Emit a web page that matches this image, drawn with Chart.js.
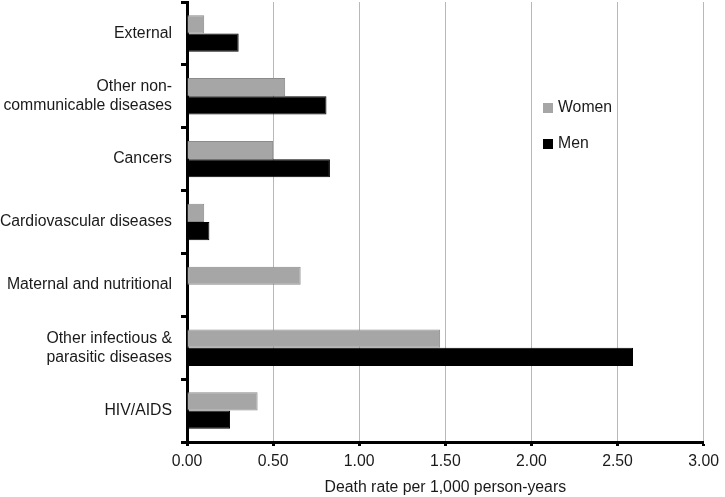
<!DOCTYPE html>
<html lang="en">
<head>
    <meta charset="UTF-8">
    <title>Death rate by cause</title>
    <script src="https://cdn.jsdelivr.net/npm/chart.js"></script>
    <style>
        html, body { margin: 0; padding: 0; background: #fff; }
        #wrap { width: 725px; height: 497px; }
    </style>
</head>
<body>
    <div id="wrap"><canvas id="rateChart" width="725" height="497"></canvas></div>
    <script>
    // categories, top to bottom
    const causes = [
        'External',
        ['Other non-', 'communicable diseases'],
        'Cancers',
        'Cardiovascular diseases',
        'Maternal and nutritional',
        ['Other infectious &', 'parasitic diseases'],
        'HIV/AIDS'
    ];
    const women = [0.10, 0.57, 0.50, 0.10, 0.66, 1.47, 0.41];
    const men = [0.30, 0.81, 0.83, 0.13, 0, 2.59, 0.25];
    const xTicks = [0, 0.5, 1, 1.5, 2, 2.5, 3];

    const textColor = '#1a1a1a';
    const fontFamily = '"Liberation Sans", Arial, Helvetica, sans-serif';
    const fontSize = 15.8;

    // legend drawn inside the plot, like the original
    const innerLegend = {
        id: 'innerLegend',
        afterDraw(chart) {
            const ctx = chart.ctx;
            const area = chart.chartArea;
            const x = area.left + 356;
            let y = area.top + 101;
            ctx.save();
            ctx.font = fontSize + 'px ' + fontFamily;
            ctx.textBaseline = 'middle';
            chart.data.datasets.forEach(ds => {
                ctx.fillStyle = ds.backgroundColor;
                ctx.fillRect(x, y, 10, 10);
                ctx.fillStyle = textColor;
                ctx.fillText(ds.label, x + 15, y + 5);
                y += 36;
            });
            ctx.restore();
        }
    };

    const ctx = document.getElementById('rateChart').getContext('2d');
    const rateChart = new Chart(ctx, {
        type: 'bar',
        data: {
            labels: causes,
            datasets: [{
                label: 'Women',
                data: women,
                backgroundColor: '#a6a6a6',
                borderColor: '#8a8a8a',
                borderWidth: 1
            }, {
                label: 'Men',
                data: men,
                backgroundColor: '#000000',
                borderColor: '#000000',
                borderWidth: 1
            }]
        },
        options: {
            indexAxis: 'y',
            responsive: false,
            animation: false,
            layout: {
                padding: { left: 0, right: 15, top: 2, bottom: 0 }
            },
            datasets: {
                bar: { categoryPercentage: 0.58, barPercentage: 1 }
            },
            plugins: {
                legend: { display: false },
                tooltip: { enabled: false }
            },
            scales: {
                x: {
                    min: 0,
                    max: 3,
                    afterBuildTicks: scale => {
                        scale.ticks = xTicks.map(v => ({ value: v }));
                    },
                    afterFit: scale => { scale.height = 55; },
                    grid: {
                        color: '#b8b8b8',
                        lineWidth: 1,
                        tickColor: '#000',
                        tickWidth: 3,
                        tickLength: 4
                    },
                    border: { color: '#000', width: 3 },
                    ticks: {
                        color: textColor,
                        font: { family: fontFamily, size: fontSize },
                        padding: 6,
                        callback: v => Number(v).toFixed(2)
                    },
                    title: {
                        display: true,
                        text: 'Death rate per 1,000 person-years',
                        color: textColor,
                        font: { family: fontFamily, size: fontSize },
                        padding: { top: 4, bottom: 0 }
                    }
                },
                y: {
                    afterFit: scale => {
                        scale.width = 187;
                        scale.paddingTop = 0;
                        scale.paddingBottom = 0;
                    },
                    grid: {
                        drawOnChartArea: false,
                        color: '#000',
                        tickWidth: 3,
                        tickLength: 6
                    },
                    border: { color: '#000', width: 3 },
                    ticks: {
                        color: textColor,
                        font: { family: fontFamily, size: fontSize, lineHeight: 1.2 },
                        padding: 9
                    }
                }
            }
        },
        plugins: [innerLegend]
    });
    </script>
</body>
</html>
